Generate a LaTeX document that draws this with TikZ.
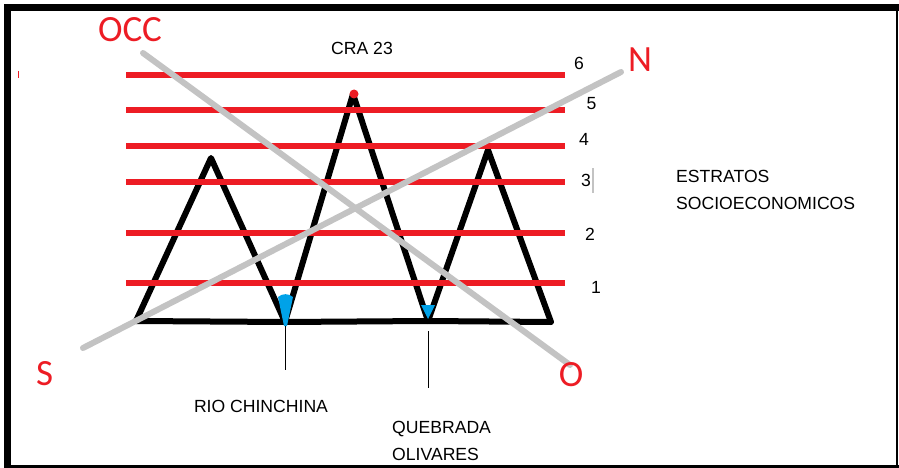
\documentclass[tikz,border=0pt]{standalone}
\usepackage{fontspec}
\setmainfont{Liberation Sans}
\newfontfamily\paintfont{Carlito}
\usepackage{tikz}
\usetikzlibrary{positioning,calc}
\definecolor{paintred}{RGB}{237,28,36}
\definecolor{riverblue}{RGB}{0,162,232}
\definecolor{axisgray}{RGB}{195,195,195}

\begin{document}
\begin{tikzpicture}[x=1pt, y=-1pt,
    ridge/.style={line width=6pt, line join=round, line cap=round},
    level/.style={draw=paintred, line width=6pt},
    axis/.style={draw=axisgray, line width=6pt, line cap=round},
    lbl/.style={inner sep=0pt, font=\fontsize{17.6}{20}\selectfont},
    num/.style={inner sep=0pt, anchor=base, font=\fontsize{17.6}{20}\selectfont},
    compass/.style={inner sep=0pt, anchor=base, text=paintred,
                    font=\paintfont\fontsize{37}{40}\selectfont},
    pointer/.style={draw, line width=1pt}
]
\useasboundingbox (0,0) rectangle (899,468);
\fill[white] (0,0) rectangle (899,468);
% frame
\draw[line width=7pt] (7.5,468) -- (7.5,7.5) -- (899,7.5);
\draw[line width=1.5pt] (897,7.5) -- (897,468);
\draw[line width=3pt] (7.5,466.5) -- (899,466.5);

% mountains
\coordinate (b1) at (136,321);
\coordinate (p1) at (211,158);
\coordinate (v1) at (285,322);
\coordinate (p2) at (353,94);
\coordinate (v2) at (428,321);
\coordinate (p3) at (488,150);
\coordinate (b2) at (551,322);
\draw[ridge] (b1) -- (p1) -- (v1) -- (p2) -- (v2) -- (p3) -- (b2);
\draw[ridge, line cap=butt] (b1) -- (v1) -- (v2) -- (b2);

% water in the valleys
\fill[riverblue] (278,297) to[bend left=40] (293,297) -- (287,326) -- (284,326) -- cycle;
\fill[riverblue] (421,305) -- (435,305) -- (428,319) -- cycle;

% levels
\foreach \yy in {75,110,146,182,233,283}
  \draw[level] (126,\yy) -- (565,\yy);
\draw[paintred, line width=1pt] (18,71) -- (18,78);
\fill[paintred] (354,94) circle (4.5pt);

% axes
\coordinate (occend) at (143,53);
\coordinate (oend) at (570,365);
\coordinate (send) at (83,348);
\coordinate (nend) at (621,72);
\draw[axis] (occend) -- (oend);
\draw[axis] (send) -- (nend);

% labels
\node[compass] (occ) at (130,42) {OCC};
\node[compass] (north) at (640,72) {N};
\node[compass] (south) at (44.5,385) {S};
\node[compass] (west) at (571,386) {O};

\node[lbl, anchor=base] (cra) at (362,55) {CRA 23};
\node[num] (n6) at (579,70) {6};
\node[num] (n5) at (591.5,110) {5};
\node[num] (n4) at (584,146) {4};
\node[num] (n3) at (586,186) {3};
\node[num] (n2) at (590,240) {2};
\node[num] (n1) at (596,293) {1};
\draw[axisgray, line width=1.5pt] (593,168) -- (593,193);

\node[lbl, anchor=base west] (estr) at (676,182) {ESTRATOS};
\node[lbl, anchor=base west] (socio) at (676,209) {SOCIOECONOMICOS};

\node[lbl, anchor=base] (rio) at (261,412) {RIO CHINCHINA};
\node[lbl, anchor=base west] (queb) at (392,433) {QUEBRADA};
\node[lbl, anchor=base west] (oliv) at (392,460) {OLIVARES};

\coordinate (riotip) at (285,370);
\coordinate (quebtip) at (428,388);
\draw[pointer] ($(v1)+(0,4)$) -- (riotip);
\draw[pointer] ($(v2)+(0,10)$) -- (quebtip);
\end{tikzpicture}
\end{document}
